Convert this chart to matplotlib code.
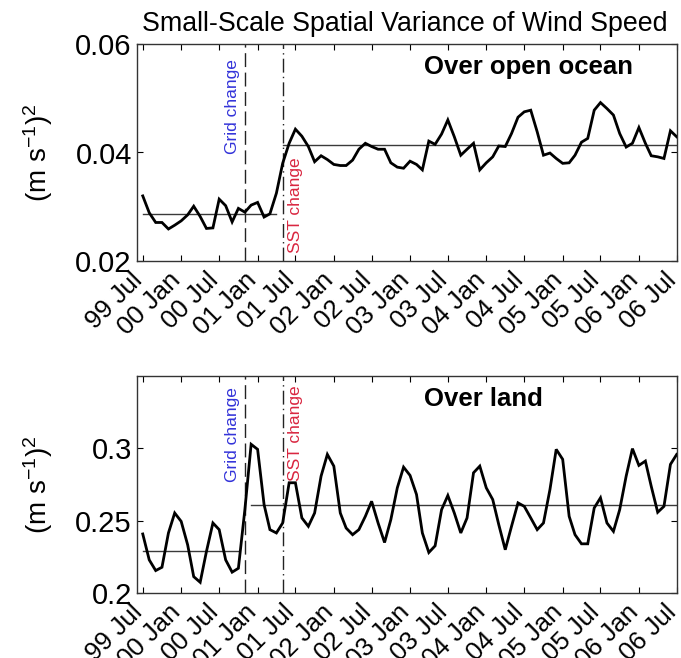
import matplotlib
matplotlib.use("Agg")
import matplotlib.pyplot as plt
import matplotlib.dates as mdates
import matplotlib.transforms as mtransforms
import pandas as pd
import numpy as np

plt.rcParams['font.family'] = ['Liberation Sans', 'DejaVu Sans']
plt.rcParams['mathtext.fontset'] = 'custom'
plt.rcParams['mathtext.rm'] = 'Liberation Sans'
plt.rcParams['mathtext.it'] = 'Liberation Sans:italic'
plt.rcParams['mathtext.bf'] = 'Liberation Sans:bold'

# ---- data (monthly, 1999 Jul .. 2006 Jul) ----
start_month = "1999-07-01"
ocean = [0.0320, 0.0289, 0.0271, 0.0271, 0.0259, 0.0266, 0.0274, 0.0285, 0.0301, 0.0282,
         0.0260, 0.0261, 0.0314, 0.0302, 0.0272, 0.0297, 0.0290, 0.0303, 0.0308, 0.0281,
         0.0287, 0.0325, 0.0380, 0.0417, 0.0443, 0.0430, 0.0411, 0.0383, 0.0394, 0.0387,
         0.0378, 0.0376, 0.0376, 0.0386, 0.0406, 0.0417, 0.0411, 0.0406, 0.0406, 0.0381,
         0.0373, 0.0371, 0.0384, 0.0378, 0.0368, 0.0421, 0.0415, 0.0434, 0.0460, 0.0429,
         0.0395, 0.0406, 0.0417, 0.0368, 0.0381, 0.0392, 0.0412, 0.0411, 0.0435, 0.0465,
         0.0475, 0.0478, 0.0438, 0.0395, 0.0399, 0.0389, 0.0380, 0.0381, 0.0395, 0.0419,
         0.0426, 0.0478, 0.0492, 0.0481, 0.0469, 0.0435, 0.0410, 0.0417, 0.0446, 0.0417,
         0.0394, 0.0392, 0.0389, 0.0440, 0.0429]
land = [0.2408, 0.2229, 0.2155, 0.2178, 0.2415, 0.2553, 0.2495, 0.2333, 0.2113, 0.2074,
        0.2287, 0.2484, 0.2438, 0.2229, 0.2144, 0.2171, 0.2576, 0.3028, 0.2993, 0.2611,
        0.2438, 0.2415, 0.2484, 0.2762, 0.2762, 0.2519, 0.2461, 0.2553, 0.2808, 0.2958,
        0.2877, 0.2553, 0.2449, 0.2403, 0.2438, 0.2530, 0.2634, 0.2484, 0.2349, 0.2507,
        0.2727, 0.2870, 0.2813, 0.2681, 0.2415, 0.2280, 0.2326, 0.2576, 0.2674, 0.2553,
        0.2415, 0.2519, 0.2831, 0.2877, 0.2727, 0.2646, 0.2472, 0.2299, 0.2461, 0.2623,
        0.2599, 0.2519, 0.2438, 0.2484, 0.2715, 0.2993, 0.2924, 0.2530, 0.2403, 0.2340,
        0.2340, 0.2588, 0.2658, 0.2484, 0.2426, 0.2576, 0.2808, 0.2998, 0.2882, 0.2912,
        0.2738, 0.2558, 0.2599, 0.2889, 0.2958]

# mean lines: (start, end, value)
ocean_means = [("1999-07-01", "2001-04-01", 0.0287), ("2001-05-01", "2006-07-01", 0.0413)]
land_means = [("1999-07-01", "2000-10-01", 0.2292), ("2000-12-01", "2006-07-01", 0.2610)]

grid_change = "2000-11-01"
sst_change = "2001-05-01"

titles = ["Over open ocean", "Over land"]
ylims = [(0.02, 0.06), (0.2, 0.35)]
yticks = [[0.02, 0.04, 0.06], [0.2, 0.25, 0.3]]
ytick_labels = [["0.02", "0.04", "0.06"], ["0.2", "0.25", "0.3"]]

dates = pd.date_range(start_month, periods=len(ocean), freq="MS")

W, H = 681, 658
fig = plt.figure(figsize=(W / 100, H / 100), dpi=100)

left = 136.7 / W
width = 540 / W
axes_rect = [
    [left, 1 - 261 / H, width, 217 / H],
    [left, 1 - 593 / H, width, 217 / H],
]

blue = (0.2, 0.2, 0.85)
red = (0.85, 0.15, 0.25)

series = [ocean, land]
means = [ocean_means, land_means]
grid_text_pos = [(0.931, 'top'), (0.951, 'top')]
sst_text_pos = [(0.037, 'bottom'), (0.958, 'top')]
title_y = [0.895, 0.894]

shift = mtransforms.ScaledTranslation(4 / 100, 0, fig.dpi_scale_trans)

for i in range(2):
    ax = fig.add_axes(axes_rect[i])
    ax.plot(dates, series[i], color='black', lw=2.0, solid_joinstyle='miter', zorder=3)
    for s, e, v in means[i]:
        ax.plot([pd.Timestamp(s), pd.Timestamp(e)], [v, v], color='#3a3a3a', lw=1.0, zorder=2)
    ax.axvline(pd.Timestamp(grid_change), color='#222222', lw=1.0, dashes=(10, 4))
    ax.axvline(pd.Timestamp(sst_change), color='#222222', lw=1.0, dashes=(10, 3, 1, 3))

    ax.set_xlim(pd.Timestamp("1999-06-02"), pd.Timestamp("2006-07-01"))
    ax.set_ylim(*ylims[i])
    ax.set_yticks(yticks[i])
    ax.set_yticklabels(ytick_labels[i])

    ax.xaxis.set_major_locator(mdates.MonthLocator(bymonth=[1, 7]))
    ax.xaxis.set_major_formatter(mdates.DateFormatter("%y %b"))
    ax.tick_params(axis='both', direction='in', top=True, right=True, length=4,
                   width=0.8, labelsize=21)
    ax.tick_params(axis='x', labelsize=18.5, pad=5)
    for lab in ax.get_xticklabels():
        lab.set_rotation(45)
        lab.set_ha('right')
        lab.set_va('top')
        lab.set_rotation_mode('default')
        lab.set_transform(lab.get_transform() + shift)
    for sp in ax.spines.values():
        sp.set_linewidth(1.0)
        sp.set_color('#333333')

    ax.set_ylabel("(m s$^{-1}$)$^{2}$", fontsize=20)
    ax.yaxis.set_label_coords(-0.152, 0.5)

    gy, gva = grid_text_pos[i]
    ax.text(pd.Timestamp("2000-09-01"), gy, "Grid change", rotation=90, color=blue,
            fontsize=12.5, ha='center', va=gva, transform=ax.get_xaxis_transform())
    sy, sva = sst_text_pos[i]
    ax.text(pd.Timestamp("2001-07-01"), sy, "SST change", rotation=90, color=red,
            fontsize=12.5, ha='center', va=sva, transform=ax.get_xaxis_transform())

    ax.text(0.532, title_y[i], titles[i], transform=ax.transAxes, fontsize=18.5,
            fontweight='bold', ha='left', va='center')

fig.text(405 / W, 1 - 24 / H, "Small-Scale Spatial Variance of Wind Speed",
         fontsize=19.3, ha='center', va='center')

fig.savefig("out.png", dpi=100)
